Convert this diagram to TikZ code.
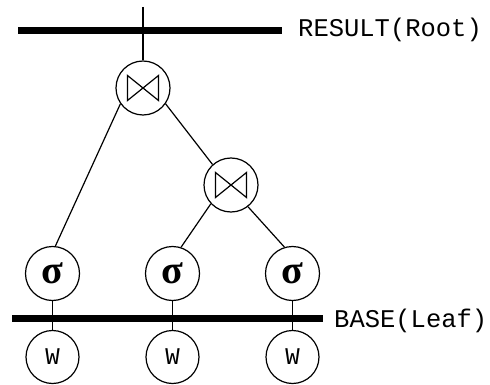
\documentclass[tikz,border=0pt]{standalone}
\usepackage{fontspec}
\setmainfont{Liberation Serif}
\newfontfamily\monofont{Liberation Mono}
\newfontfamily\seriffont{Liberation Serif}
\begin{document}
\begin{tikzpicture}[x=1pt,y=-1pt,
  thin line/.style={line width=1.2pt},
  bar/.style={line width=7pt},
  opnode/.style={circle,draw,line width=1.2pt,minimum size=54pt,inner sep=0pt},
  joinnode/.style={opnode,path picture={
      \draw[line width=1.2pt,line join=miter]
        ([shift={(-15.5,-12.5)}]path picture bounding box.center)
        -- ([shift={(-15.5,12.5)}]path picture bounding box.center)
        -- ([shift={(15.5,-12.5)}]path picture bounding box.center)
        -- ([shift={(15.5,12.5)}]path picture bounding box.center)
        -- cycle;}},
  selnode/.style={opnode,font=\seriffont\bfseries\fontsize{40}{40}\selectfont},
  wnode/.style={opnode,minimum size=53pt,font=\monofont\fontsize{24}{24}\selectfont},
  lbl/.style={anchor=base west,inner sep=0pt,font=\monofont\fontsize{25.5}{25.5}\selectfont}
]
\useasboundingbox[fill=white] (0,0) rectangle (490,385);

% bars
\coordinate (rl) at (18,30.3);
\coordinate (rr) at (282,30.3);
\coordinate (bl) at (12,318.5);
\coordinate (br) at (323,318.5);

% nodes
\node[joinnode] (j1) at (143,88) {};
\node[joinnode] (j2) at (231,185) {};
\node[selnode] (s1) at (52.5,273.5) {σ};
\node[selnode] (s2) at (172.5,273.5) {σ};
\node[selnode] (s3) at (292.5,273.5) {σ};
\node[wnode] (w1) at (52.5,357) {W};
\node[wnode] (w2) at (172.5,357) {W};
\node[wnode] (w3) at (292.5,357) {W};
\coordinate (top) at (143,7);

% connectors
\draw[thin line] (top) -- (j1.north);
\draw[thin line] (j1.215) -- (s1.84);
\draw[thin line] (j1.-35) -- (j2.132);
\draw[thin line] (j2.223) -- (s2.72);
\draw[thin line] (j2.-52) -- (s3.107);
\draw[thin line] (s1.south) -- (w1.north);
\draw[thin line] (s2.south) -- (w2.north);
\draw[thin line] (s3.south) -- (w3.north);

\draw[bar] (rl) -- (rr);
\draw[bar] (bl) -- (br);

% labels
\node[lbl] (result) at (298,37) {RESULT(Root)};
\node[lbl] (base) at (334,327) {BASE(Leaf)};
\end{tikzpicture}
\end{document}
